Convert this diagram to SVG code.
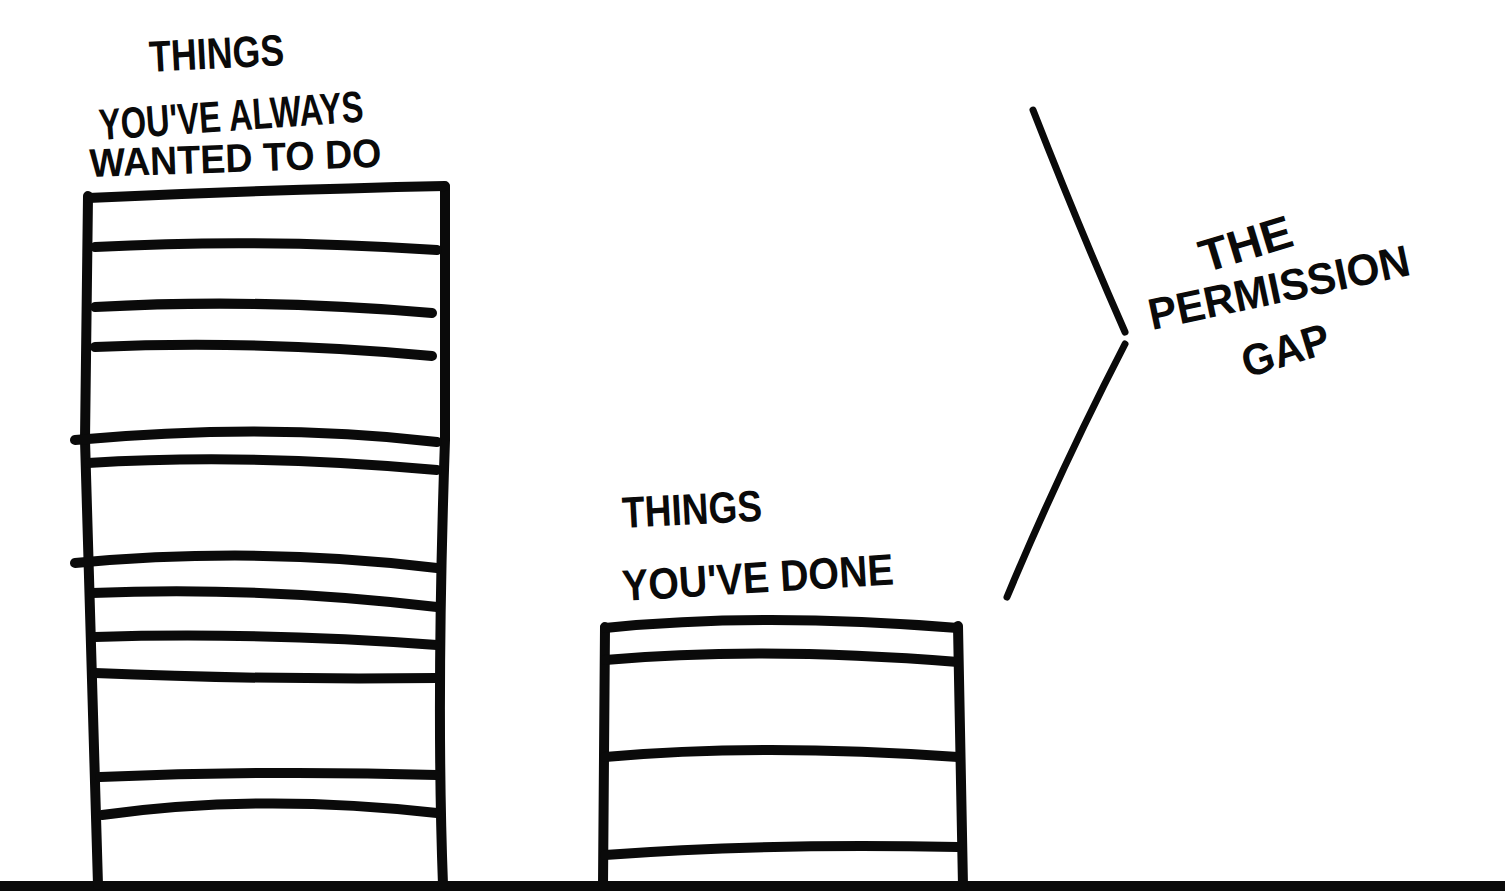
<svg xmlns="http://www.w3.org/2000/svg" width="1505" height="892" viewBox="0 0 1505 892">
<style>
.ink{fill:none;stroke:#0a0a0a;stroke-width:10;stroke-linecap:round;stroke-linejoin:round}
.thin{fill:none;stroke:#0a0a0a;stroke-width:7;stroke-linecap:round}
.hand{font-family:"Liberation Sans","DejaVu Sans",sans-serif;font-weight:bold;fill:#0a0a0a}
</style>
<rect width="1505" height="892" fill="#ffffff"/>
<g id="ground"><path class="ink" d="M0,886 L1505,886"/></g>
<g id="tower-always">
<path class="ink" d="M88,196 L85,440 Q90,600 98,885"/>
<path class="ink" d="M445,187 L445,440 Q436,700 443,885"/>
<path class="ink" d="M88,198 Q260,190 445,186"/>
<path class="ink" d="M95,247 Q260,238 437,250"/>
<path class="ink" d="M95,307 Q260,298 432,313"/>
<path class="ink" d="M95,347 Q260,340 432,356"/>
<path class="ink" d="M75,440 Q270,422 437,442"/>
<path class="ink" d="M88,463 Q250,453 437,470"/>
<path class="ink" d="M75,563 Q260,546 437,568"/>
<path class="ink" d="M92,593 Q260,586 437,607"/>
<path class="ink" d="M95,637 Q260,632 437,645"/>
<path class="ink" d="M95,673 Q260,680 437,678"/>
<path class="ink" d="M100,777 Q270,770 437,775"/>
<path class="ink" d="M102,815 Q260,793 437,813"/>
</g>
<g id="tower-done">
<path class="ink" d="M605,627 L603,886"/>
<path class="ink" d="M958,626 Q960,750 963,886"/>
<path class="ink" d="M605,628 Q760,612 958,628"/>
<path class="ink" d="M605,660 Q760,646 958,662"/>
<path class="ink" d="M605,757 Q760,743 958,757"/>
<path class="ink" d="M605,855 Q760,843 958,847"/>
</g>
<g id="label-always">
<text class="hand" x="150" y="72" font-size="44" textLength="135" lengthAdjust="spacingAndGlyphs" transform="rotate(-3 150 72)">THINGS</text>
<text class="hand" x="100" y="140" font-size="44" textLength="265" lengthAdjust="spacingAndGlyphs" transform="rotate(-4 100 140)">YOU'VE ALWAYS</text>
<text class="hand" x="90" y="177" font-size="40" textLength="292" lengthAdjust="spacingAndGlyphs" transform="rotate(-2 90 177)">WANTED TO DO</text>
</g>
<g id="label-done">
<text class="hand" x="623" y="528" font-size="44" textLength="140" lengthAdjust="spacingAndGlyphs" transform="rotate(-3 623 528)">THINGS</text>
<text class="hand" x="623" y="601" font-size="44" textLength="272" lengthAdjust="spacingAndGlyphs" transform="rotate(-3.5 623 601)">YOU'VE DONE</text>
</g>
<g id="connectors">
<g id="gap-bracket">
<path class="thin" d="M1033,110 Q1080,230 1125,332"/>
<path class="thin" d="M1125,344 Q1060,470 1007,597"/>
</g>
</g>
<g id="label-gap">
<text class="hand" x="1205" y="273" font-size="46" textLength="95" lengthAdjust="spacingAndGlyphs" transform="rotate(-17 1205 273)">THE</text>
<text class="hand" x="1152" y="330" font-size="44" textLength="266" lengthAdjust="spacingAndGlyphs" transform="rotate(-12 1152 330)">PERMISSION</text>
<text class="hand" x="1247" y="378" font-size="44" textLength="90" lengthAdjust="spacingAndGlyphs" transform="rotate(-17 1247 378)">GAP</text>
</g>
</svg>
